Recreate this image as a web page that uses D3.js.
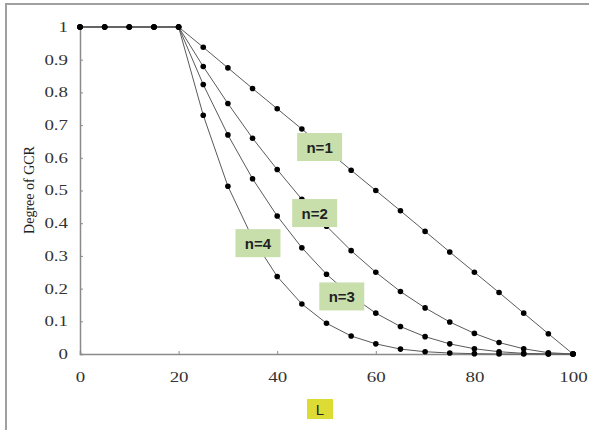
<!DOCTYPE html>
<html>
<head>
<meta charset="utf-8">
<script src="https://cdn.jsdelivr.net/npm/d3@7"></script>
<style>
  body { margin: 0; background: #fff; }
  svg { display: block; }
</style>
</head>
<body>
<svg id="chart" width="589" height="430"></svg>
<script>
// L values (x axis)
let lValues = [0, 5, 10, 15, 20, 25, 30, 35, 40, 45, 50, 55, 60, 65, 70, 75, 80, 85, 90, 95, 100];

// degree of GCR
let seriesN1 = [1, 1, 1, 1, 1, 0.938, 0.875, 0.812, 0.75, 0.688, 0.625, 0.562, 0.5, 0.438, 0.375, 0.312, 0.25, 0.188, 0.125, 0.062, 0];
let seriesN2 = [1, 1, 1, 1, 1, 0.879, 0.766, 0.66, 0.564, 0.473, 0.391, 0.316, 0.25, 0.191, 0.141, 0.098, 0.063, 0.035, 0.016, 0.004, 0];
let seriesN3 = [1, 1, 1, 1, 1, 0.824, 0.67, 0.536, 0.422, 0.325, 0.244, 0.178, 0.125, 0.084, 0.053, 0.031, 0.016, 0.007, 0.002, 0, 0];
let seriesN4 = [1, 1, 1, 1, 1, 0.73, 0.513, 0.354, 0.237, 0.153, 0.094, 0.055, 0.031, 0.015, 0.007, 0.003, 0.001, 0, 0, 0, 0];

let seriesNames = ["n=1", "n=2", "n=3", "n=4"];
let xTicks = [0, 20, 40, 60, 80, 100];
let yTicks = [0, 0.1, 0.2, 0.3, 0.4, 0.5, 0.6, 0.7, 0.8, 0.9, 1];

let allSeries = [seriesN1, seriesN2, seriesN3, seriesN4];

let svg = d3.select("#chart");

// frame around the picture
svg.append("path")
    .attr("d", "M6,430 L6,4 L589,4")
    .attr("fill", "none")
    .attr("stroke", "#a0a0a0")
    .attr("stroke-width", 2);

let xScale = d3.scaleLinear().domain([0, 100]).range([80, 573]);
let yScale = d3.scaleLinear().domain([0, 1]).range([354, 27]);

// axes, small ticks pointing inwards
let xAxis = d3.axisBottom(xScale).tickValues(xTicks).tickSize(-3).tickPadding(18).tickFormat(d3.format("d"));
let yAxis = d3.axisLeft(yScale).tickValues(yTicks).tickSize(-3).tickPadding(12).tickFormat(d => d === 0 || d === 1 ? d : d3.format(".1f")(d));

let gX = svg.append("g").attr("transform", "translate(0,354)").call(xAxis);
let gY = svg.append("g").attr("transform", "translate(80,0)").call(yAxis);

// the original labels are a wide serif face, so stretch them a little
let stretch = 1.35;
[gX, gY].forEach(g => {
    g.attr("font-family", null).attr("font-size", null);
    g.selectAll(".tick text")
        .attr("font-family", "Liberation Serif")
        .attr("font-size", 14)
        .attr("fill", "#333")
        .attr("transform", "scale(" + stretch + ",1)");
    g.select(".domain").attr("stroke", "#8a8a8a").attr("stroke-width", 1.5);
    g.selectAll(".tick line").attr("stroke", "#8a8a8a");
});
gY.selectAll(".tick text").attr("x", -12 / stretch);

// lines and markers
let line = d3.line()
    .x((d, i) => xScale(lValues[i]))
    .y(d => yScale(d));

let gLines = svg.append("g");
allSeries.forEach(s => {
    gLines.append("path")
        .datum(s)
        .attr("d", line)
        .attr("fill", "none")
        .attr("stroke", "#5a5a5a")
        .attr("stroke-width", 1);
});

allSeries.forEach(s => {
    gLines.selectAll(null)
        .data(s)
        .enter()
        .append("circle")
        .attr("cx", (d, i) => xScale(lValues[i]))
        .attr("cy", d => yScale(d))
        .attr("r", 2.8)
        .attr("fill", "#000");
});

// green series labels (centre in data units)
let labelPos = [[48.6, 0.633], [47.6, 0.431], [53.1, 0.176], [36.1, 0.339]];
seriesNames.forEach((name, i) => {
    let cx = xScale(labelPos[i][0]);
    let cy = yScale(labelPos[i][1]);
    svg.append("rect")
        .attr("x", cx - 22.5)
        .attr("y", cy - 14)
        .attr("width", 45)
        .attr("height", 28)
        .attr("fill", "#c8dfac");
    svg.append("text")
        .attr("x", cx)
        .attr("y", cy + 5.5)
        .attr("text-anchor", "middle")
        .attr("font-family", "Liberation Sans, Arial, sans-serif")
        .attr("font-weight", "bold")
        .attr("font-size", 15)
        .attr("fill", "#222")
        .text(name);
});

// axis titles
svg.append("text")
    .attr("transform", "translate(34,190) rotate(-90)")
    .attr("text-anchor", "middle")
    .attr("font-family", "Liberation Serif, serif")
    .attr("font-size", 14)
    .attr("fill", "#222")
    .text("Degree of GCR");

svg.append("rect")
    .attr("x", 307)
    .attr("y", 399)
    .attr("width", 26)
    .attr("height", 20)
    .attr("fill", "#dcdc34");
svg.append("text")
    .attr("x", 320)
    .attr("y", 415)
    .attr("text-anchor", "middle")
    .attr("font-family", "Liberation Sans, Arial, sans-serif")
    .attr("font-size", 15)
    .attr("fill", "#222")
    .text("L");
</script>
</body>
</html>
